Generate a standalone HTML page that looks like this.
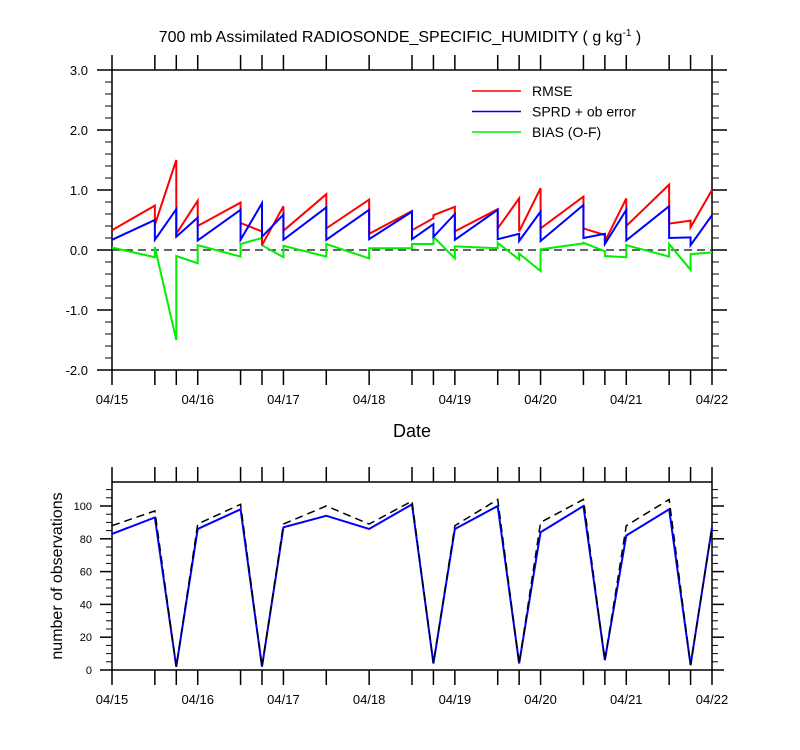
<!DOCTYPE html>
<html><head><meta charset="utf-8"><style>
body{margin:0;background:#fff}
svg{display:block;font-family:"Liberation Sans",sans-serif}
</style></head><body>
<svg id="c" width="800" height="750"></svg>
<script>
const times=[0,0.5,0.75,1,1.5,1.75,2,2.5,3,3.5,3.75,4,4.5,4.75,5,5.5,5.75,6,6.5,6.75,7];
const dateLabels=["04/15","04/16","04/17","04/18","04/19","04/20","04/21","04/22"];
const rmseStart=[0.33,0.42,0.27,0.40,0.45,0.08,0.32,0.36,0.27,0.33,0.58,0.31,0.36,0.31,0.36,0.36,0.14,0.40,0.44,0.38];
const rmseEnd=[0.74,1.50,0.82,0.79,0.31,0.73,0.93,0.84,0.65,0.53,0.72,0.68,0.86,1.03,0.89,0.25,0.86,1.09,0.49,1.00];
const sprdStart=[0.17,0.17,0.22,0.16,0.17,0.22,0.17,0.17,0.18,0.18,0.22,0.17,0.18,0.15,0.15,0.20,0.10,0.16,0.20,0.08];
const sprdEnd=[0.50,0.68,0.54,0.67,0.78,0.59,0.71,0.67,0.64,0.43,0.60,0.67,0.27,0.64,0.75,0.27,0.67,0.73,0.21,0.58];
const biasStart=[0.04,0.05,-0.10,0.08,0.10,0.08,0.07,0.10,0.03,0.10,0.22,0.06,0.12,-0.06,0.01,0.12,-0.10,0.08,0.10,-0.07];
const biasEnd=[-0.12,-1.50,-0.22,-0.11,0.20,-0.12,-0.11,-0.14,0.03,0.10,-0.14,0.03,-0.16,-0.35,0.11,-0.02,-0.12,-0.11,-0.33,-0.04];
const topTicks=[-2,-1,0,1,2,3];
const obsAssim=[83,93,2,86,98,2,87,94,86,101,4,86,100,4,84,100,6,82,98,3,87];
const obsTotal=[88,97,2,89,101,2,89,100,89,103,4,88,104,4,90,104,6,88,104,3,87];
const botTicks=[0,20,40,60,80,100];

const NS="http://www.w3.org/2000/svg";
const svg=document.getElementById('c');
function el(t,a,p){const e=document.createElementNS(NS,t);for(const k in a)e.setAttribute(k,a[k]);(p||svg).appendChild(e);return e;}
const X0=112,X1=712;
const x=t=>X0+(X1-X0)*t/7;
const yT=v=>250-60*v;
const yB=v=>670-1.64*v;

// title
let t=el('text',{x:400,y:42,'text-anchor':'middle','font-size':16});

t.innerHTML='700 mb Assimilated RADIOSONDE_SPECIFIC_HUMIDITY ( g kg<tspan dy="-6" font-size="10">-1</tspan><tspan dy="6"> )</tspan>';

function frame(top,bot,name){
  const r=el('rect',{x:X0,y:top,width:X1-X0,height:bot-top,fill:'none',stroke:'#000','stroke-width':1.5});
  
  times.forEach(tt=>{
    el('line',{x1:x(tt),x2:x(tt),y1:top,y2:top-15,stroke:'#000','stroke-width':1.5});
    el('line',{x1:x(tt),x2:x(tt),y1:bot,y2:bot+15,stroke:'#000','stroke-width':1.5});
  });
  dateLabels.forEach((d,i)=>{
    const tx=el('text',{x:x(i),y:bot+34,'text-anchor':'middle','font-size':13});
    
    tx.textContent=d;
  });
}
// top plot
frame(70,370,'top-plot-frame');
for(let v=-2;v<=3.001;v+=0.2){
  const major=Math.abs(v-Math.round(v))<0.01;
  const L=major?15:7;
  el('line',{x1:X0,x2:X0-L,y1:yT(v),y2:yT(v),stroke:'#000','stroke-width':major?1.5:1});
  el('line',{x1:X1,x2:X1+L,y1:yT(v),y2:yT(v),stroke:'#000','stroke-width':major?1.5:1});
}
topTicks.forEach(v=>{
  const tx=el('text',{x:88,y:yT(v)+5,'text-anchor':'end','font-size':13});
  
  tx.textContent=v.toFixed(1);
});
const zl=el('line',{x1:X0,x2:X1,y1:yT(0),y2:yT(0),stroke:'#333','stroke-width':1.5,'stroke-dasharray':'8,5'});

function saw(s,e,color,name){
  let d='';
  for(let i=0;i<s.length;i++){
    d+=(i?'L':'M')+x(times[i])+','+yT(s[i])+'L'+x(times[i+1])+','+yT(e[i]);
  }
  const p=el('path',{d:d,fill:'none',stroke:color,'stroke-width':2});
  
}
saw(biasStart,biasEnd,'#00ee00','bias-line');
saw(rmseStart,rmseEnd,'#ff0000','rmse-line');
saw(sprdStart,sprdEnd,'#0000ff','sprd-line');
[['RMSE','#ff0000'],['SPRD + ob error','#0000ff'],['BIAS (O-F)','#00ee00']].forEach((l,i)=>{
  const g=el('g',{});
  
  el('line',{x1:472,x2:521,y1:91+i*20.5,y2:91+i*20.5,stroke:l[1],'stroke-width':1.5},g);
  const tx=el('text',{x:532,y:96+i*20.5,'font-size':14},g);tx.textContent=l[0];
});
const xt=el('text',{x:412,y:437,'text-anchor':'middle','font-size':18});

xt.textContent='Date';

// bottom plot
frame(482,670,'bottom-plot-frame');
for(let v=0;v<=114;v+=5){
  const major=v%20===0;
  const L=major?12:6;
  el('line',{x1:X0,x2:X0-L,y1:yB(v),y2:yB(v),stroke:'#000','stroke-width':major?1.5:1});
  el('line',{x1:X1,x2:X1+L,y1:yB(v),y2:yB(v),stroke:'#000','stroke-width':major?1.5:1});
}
botTicks.forEach(v=>{
  const tx=el('text',{x:92,y:yB(v)+4,'text-anchor':'end','font-size':11});
  
  tx.textContent=v;
});
const yl=el('text',{x:0,y:0,'text-anchor':'middle','font-size':16,transform:'translate(62,576) rotate(-90)'});

yl.textContent='number of observations';
function line(vals,attrs,name){
  const d=vals.map((v,i)=>(i?'L':'M')+x(times[i])+','+yB(v)).join('');
  const p=el('path',Object.assign({d:d,fill:'none'},attrs));
  
}
line(obsAssim,{stroke:'#0000ff','stroke-width':2},'assimilated-obs-line');
line(obsTotal,{stroke:'#000','stroke-width':1.5,'stroke-dasharray':'8,5'},'total-obs-line');
</script>
</body></html>
